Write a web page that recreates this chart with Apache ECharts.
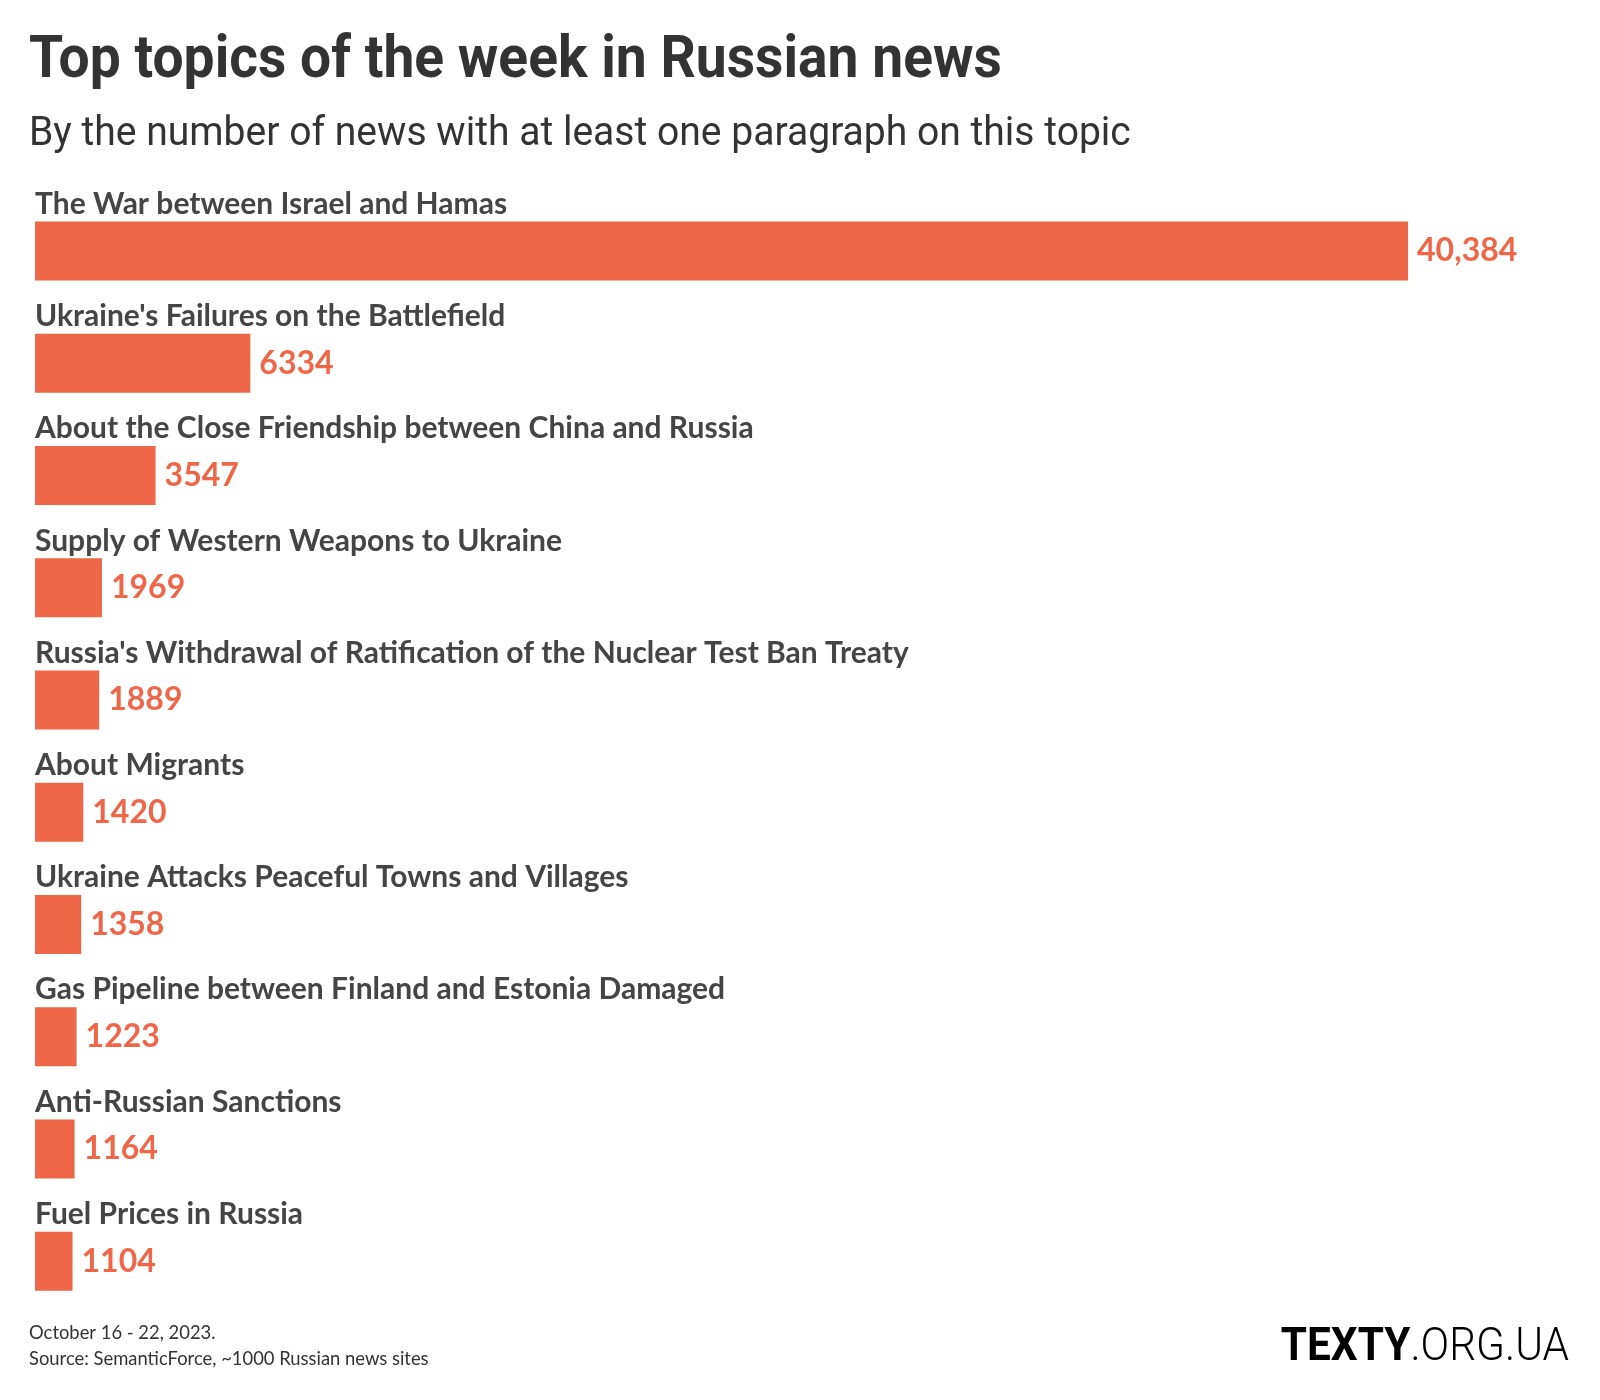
<!DOCTYPE html>
<html>
<head>
<meta charset="utf-8">
<script src="https://cdn.jsdelivr.net/npm/echarts@6/dist/echarts.min.js"></script>
<style>
html,body{margin:0;padding:0;background:#fff;}
#chart{width:1600px;height:1400px;}
</style>
</head>
<body>
<div id="chart"></div>
<script>
const categories = [
  "The War between Israel and Hamas",
  "Ukraine's Failures on the Battlefield",
  "About the Close Friendship between China and Russia",
  "Supply of Western Weapons to Ukraine",
  "Russia's Withdrawal of Ratification of the Nuclear Test Ban Treaty",
  "About Migrants",
  "Ukraine Attacks Peaceful Towns and Villages",
  "Gas Pipeline between Finland and Estonia Damaged",
  "Anti-Russian Sanctions",
  "Fuel Prices in Russia"
];
const values = [40384, 6334, 3547, 1969, 1889, 1420, 1358, 1223, 1164, 1104];
const valueLabels = ["40,384", "6334", "3547", "1969", "1889", "1420", "1358", "1223", "1164", "1104"];
const titleText = "Top topics of the week in Russian news";
const subtitleText = "By the number of news with at least one paragraph on this topic";
const footerLines = ["October 16 - 22, 2023.", "Source: SemanticForce, ~1000 Russian news sites"];

const BAR = '#EE6748';
const chart = echarts.init(document.getElementById('chart'), null, {renderer: 'canvas'});
chart.setOption({
  backgroundColor: '#fff',
  animation: false,
  grid: {left: 35, right: 35, top: 195, bottom: 82.6, containLabel: false, outerBoundsMode: 'none'},
  xAxis: {type: 'value', min: 0, max: 45000, show: false},
  yAxis: {
    type: 'category', inverse: true, data: categories,
    axisLine: {show: false}, axisTick: {show: false}, splitLine: {show: false},
    axisLabel: {
      inside: true, interval: 0, margin: 0, align: 'left', verticalAlign: 'bottom',
      padding: [0, 0, 32, 0],
      fontFamily: 'Lato', fontWeight: 'bold', fontSize: 30, color: '#454545'
    }
  },
  series: [{
    type: 'bar', data: values, barWidth: 59,
    itemStyle: {color: BAR},
    label: {
      show: true, position: 'right', distance: 9,
      formatter: p => valueLabels[p.dataIndex],
      fontFamily: 'Lato', fontWeight: 'bold', fontSize: 32, color: BAR
    }
  }],
  graphic: [
    {type: 'text', x: 29, y: 62, scaleX: 0.92, style: {text: titleText, x: 0, y: 0, verticalAlign: 'middle',
      fontFamily: 'Roboto', fontWeight: 'bold', fontSize: 60, fill: '#333'}},
    {type: 'text', x: 29, y: 135, scaleX: 0.953, style: {text: subtitleText, x: 0, y: 0, verticalAlign: 'middle',
      fontFamily: 'Roboto', fontWeight: 'normal', fontSize: 41, fill: '#333'}},
    {type: 'text', x: 29, y: 1333, style: {text: footerLines[0], verticalAlign: 'middle',
      fontFamily: 'Lato', fontSize: 18.4, fill: '#333'}},
    {type: 'text', x: 29, y: 1359, style: {text: footerLines[1], verticalAlign: 'middle',
      fontFamily: 'Lato', fontSize: 18.4, fill: '#333'}},
    {type: 'text', x: 1569, y: 1348, scaleX: 0.92, style: {
      text: '{b|TEXTY}{l|.ORG.UA}', x: 0, y: 0, align: 'right', verticalAlign: 'middle',
      rich: {
        b: {fontFamily: 'Roboto', fontWeight: 'bold', fontSize: 46, fill: '#000'},
        l: {fontFamily: 'Roboto', fontWeight: 300, fontSize: 46, fill: '#000'}
      }}}
  ]
});
</script>
</body>
</html>
